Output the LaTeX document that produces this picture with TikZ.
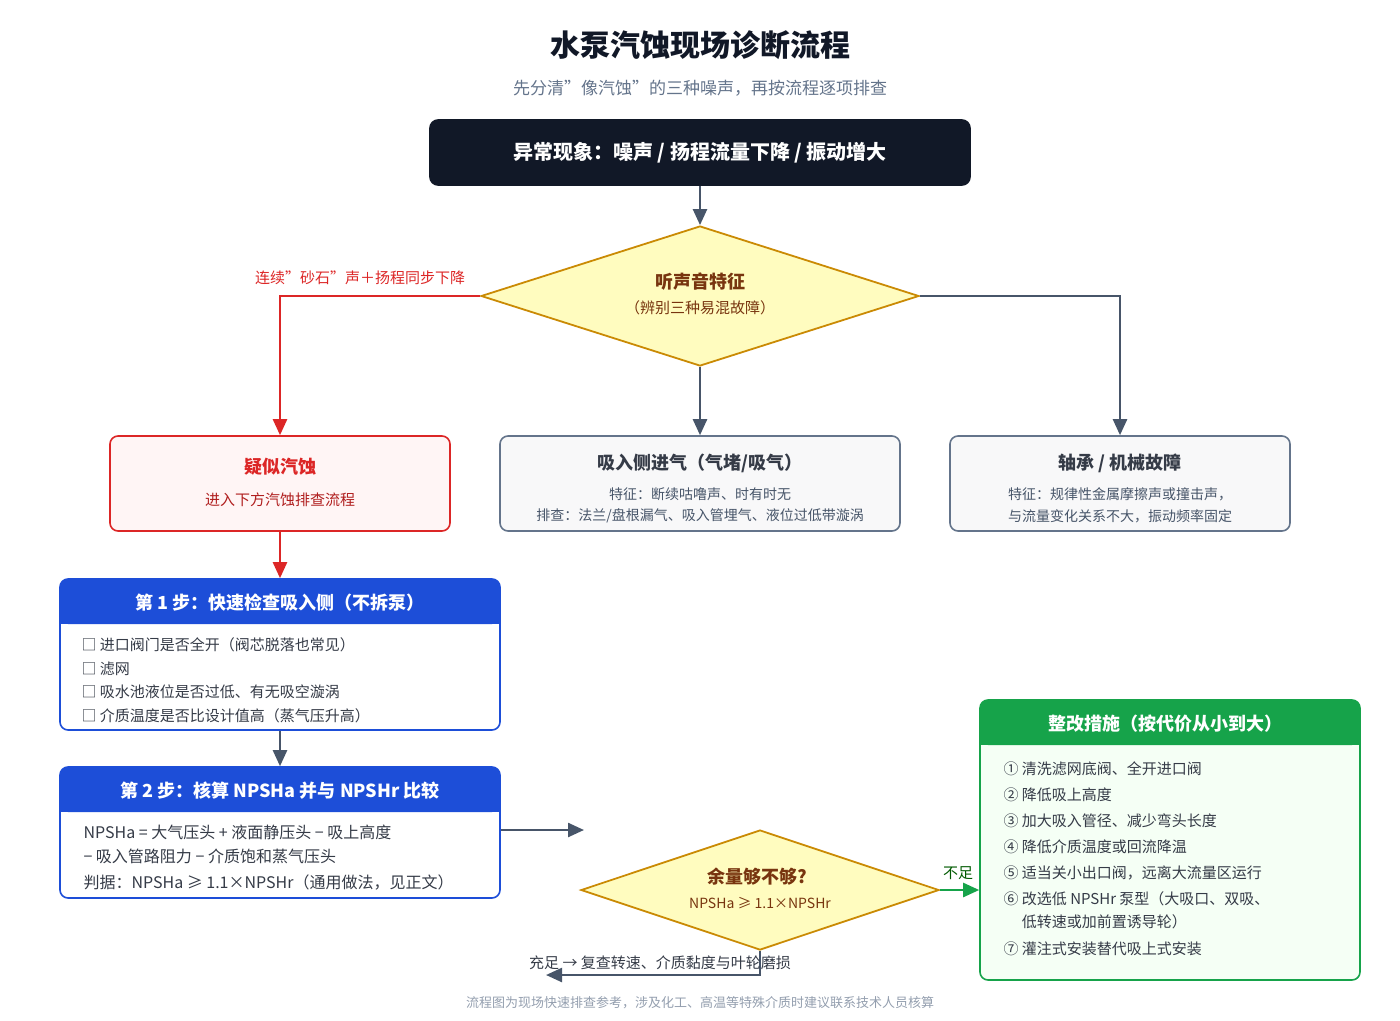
\documentclass[tikz,border=0pt]{standalone}
\usepackage{fontspec}
\setmainfont{Noto Sans CJK SC}
\usetikzlibrary{positioning, shapes.geometric, arrows.meta, calc}
\definecolor{ink}{HTML}{111827}
\definecolor{slate}{HTML}{475569}
\definecolor{mute}{HTML}{64748B}
\definecolor{redc}{HTML}{DC2626}
\definecolor{bluec}{HTML}{1D4ED8}
\definecolor{greenc}{HTML}{16A34A}
\definecolor{ambc}{HTML}{CA8A04}
\definecolor{brownc}{HTML}{78350F}
\newcommand{\fs}[1]{\fontsize{#1}{#1}\selectfont}
\tikzset{
  box/.style={draw, rounded corners=8, line width=1.6pt, align=center},
  dia/.style={diamond, aspect=3.1, draw=ambc, fill=yellow!25, line width=1.8pt, inner sep=0pt, align=center},
  link/.style={draw=slate, line width=2.4pt, -{Triangle[length=16pt,width=14pt]}},
  item/.style={anchor=west, text=ink!85, font=\fs{15}},
}
\begin{document}
\begin{tikzpicture}[x=1pt, y=-1pt]
	\useasboundingbox (0,0) rectangle (1400,1020);
	
	%//title
	\node [font=\fs{30}\bfseries, text=ink] (title) at (700,45) {水泵汽蚀现场诊断流程};
	\node [font=\fs{17}, text=mute] (sub) at (700,88) {先分清"像汽蚀"的三种噪声，再按流程逐项排查};
	
	\node [box, draw=ink, fill=ink, text=white, minimum width=540, minimum height=65, font=\fs{20}\bfseries] (top) at (700,152.5) {异常现象：噪声 / 扬程流量下降 / 振动增大};
	
	\node [dia, minimum width=438, minimum height=140] (ear) at (700,296) {};
	\node [font=\fs{18}\bfseries, text=brownc] at (700,282) {听声音特征};
	\node [font=\fs{15}, text=brownc] at (700,308) {（辨别三种易混故障）};
	
	%//three branches
	\node [box, draw=redc, fill=red!4, minimum width=340, minimum height=95] (cav) at (280,483.5) {};
	\node [font=\fs{18}\bfseries, text=redc] at (280,467) {疑似汽蚀};
	\node [font=\fs{15}, text=redc!80!black] at (280,500) {进入下方汽蚀排查流程};
	
	\node [box, draw=mute, fill=slate!4, minimum width=400, minimum height=95] (air) at (700,483.5) {};
	\node [font=\fs{18}\bfseries, text=ink!85] at (700,463) {吸入侧进气（气堵/吸气）};
	\node [font=\fs{14}, text=slate] at (700,494) {特征：断续咕噜声、时有时无};
	\node [font=\fs{14}, text=slate] at (700,516) {排查：法兰/盘根漏气、吸入管埋气、液位过低带漩涡};
	
	\node [box, draw=mute, fill=slate!4, minimum width=340, minimum height=95] (brg) at (1120,483.5) {};
	\node [font=\fs{18}\bfseries, text=ink!85] at (1120,463) {轴承 / 机械故障};
	\node [font=\fs{14}, text=slate] at (1120,494) {特征：规律性金属摩擦声或撞击声，};
	\node [font=\fs{14}, text=slate] at (1120,516) {与流量变化关系不大，振动频率固定};
	
	\draw [link] (top.south) -- (ear.north);
	\draw [link, draw=redc] (ear.west) -| (cav.north);
	\draw [link] (ear.south) -- (air.north);
	\draw [link] (ear.east) -| (brg.north);
	\node [font=\fs{15}, text=redc] at (360,278) {连续"砂石"声＋扬程同步下降};
	
	%//step 1
	\node [box, draw=bluec, fill=white, minimum width=440, minimum height=151] (st1) at (280,654.5) {};
	\fill [bluec, rounded corners=8] (60,624) rectangle (500,579);
	\fill [bluec] (60.8,605) rectangle (499.2,624);
	\node [font=\fs{18}\bfseries, text=white] at (280,603) {第 1 步：快速检查吸入侧（不拆泵）};
	\foreach \y/\t in {645/进口阀门是否全开（阀芯脱落也常见）, 669/滤网/底阀是否堵塞（看差压或真空表读数）, 692/吸水池液位是否过低、有无吸空漩涡, 716/介质温度是否比设计值高（蒸气压升高）}
	\node [item] at (78,\y) {□ \t};
	
	%//step 2
	\node [box, draw=bluec, fill=white, minimum width=440, minimum height=131] (st2) at (280,832.5) {};
	\fill [bluec, rounded corners=8] (60,812) rectangle (500,767);
	\fill [bluec] (60.8,790) rectangle (499.2,812);
	\node [font=\fs{18}\bfseries, text=white] at (280,791) {第 2 步：核算 NPSHa 并与 NPSHr 比较};
	\foreach \y/\t in {832/NPSHa = 大气压头 + 液面静压头 − 吸上高度, 856/− 吸入管路阻力 − 介质饱和蒸气压头, 882/判据：NPSHa ≥ 1.1×NPSHr（通用做法，见正文）}
	\node [item, font=\fs{16}] at (80,\y) {\t};
	
	\draw [link, draw=redc] (cav.south) -- (st1.north);
	\draw [link] (st1.south) -- (st2.north);
	\coordinate (gap) at (584,830);
	\draw [link] (st2.east |- gap) -- (gap);
	
	%//decision
	\node [dia, minimum width=358, minimum height=120, aspect=3] (enough) at (760,890) {};
	\node [font=\fs{18}\bfseries, text=brownc] at (757,877) {余量够不够?};
	\node [font=\fs{14}, text=brownc] at (760,903) {NPSHa ≥ 1.1×NPSHr};
	
	%//fixes
	\node [box, draw=greenc, fill=green!4, minimum width=380, minimum height=280] (fix) at (1170,840) {};
	\fill [greenc, rounded corners=8] (980,745) rectangle (1360,700);
	\fill [greenc] (980.8,725) rectangle (1359.2,745);
	\node [font=\fs{18}\bfseries, text=white] at (1165,724) {整改措施（按代价从小到大）};
	\foreach \y/\t in {769/① 清洗滤网底阀、全开进口阀, 795/② 降低吸上高度 / 提高吸液面液位, 821/③ 加大吸入管径、减少弯头长度, 847/④ 降低介质温度或回流降温, 873/⑤ 适当关小出口阀，远离大流量区运行, 899/⑥ 改选低 NPSHr 泵型（大吸口、双吸、, 922/\phantom{⑥} 低转速或加前置诱导轮）, 949/⑦ 灌注式安装替代吸上式安装}
	\node [item] at (1000,\y) {\t};
	
	\draw [link, draw=greenc] (enough.east) -- (fix.west |- enough.east);
	\node [font=\fs{15}, text=green!35!black] at (958,873) {不足};
	\coordinate (back) at (546,975);
	\draw [link] (enough.south) |- (back);
	\node [font=\fs{15}, text=ink!85] at (660,963) {充足 → 复查转速、介质黏度与叶轮磨损};
	
	\node [font=\fs{13}, text=mute!70] (foot) at (700,1003) {流程图为现场快速排查参考，涉及化工、高温等特殊介质时建议联系技术人员核算};
\end{tikzpicture}
\end{document}
